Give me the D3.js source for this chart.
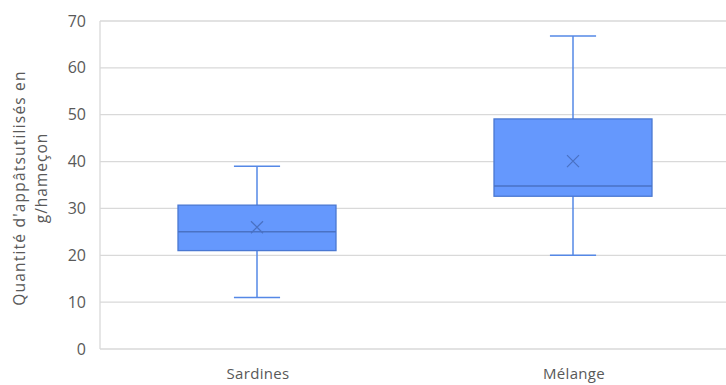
<!DOCTYPE html>
<html><head><meta charset="utf-8">
<script src="https://cdn.jsdelivr.net/npm/d3@7"></script>
<style>body{margin:0;background:#fff}svg{display:block}</style>
</head><body>
<svg id="c" width="726" height="385"></svg>
<script>
const categories = ["Sardines", "Mélange"];
const minVals = [11, 20];
const q1Vals = [21, 32.6];
const medianVals = [25, 34.8];
const q3Vals = [30.7, 49.1];
const maxVals = [39, 66.8];
const meanVals = [26, 40.1];
const yTicks = [0, 10, 20, 30, 40, 50, 60, 70];
const yLabelLines = ["Quantité d'appâtsutilisés en", "g/hameçon"];

const svg = d3.select("#c");
const font = "'Open Sans', 'Liberation Sans', sans-serif";
const pLeft = 100, pRight = 732, pTop = 21, pBottom = 349;

const x = d3.scaleBand().domain(categories).range([pLeft, pRight]);
const y = d3.scaleLinear().domain([0, 70]).range([pBottom, pTop]);

svg.append("g").selectAll("line").data(yTicks).join("line")
  .attr("x1", pLeft).attr("x2", pRight)
  .attr("y1", d => y(d)).attr("y2", d => y(d))
  .attr("stroke", "#d9d9d9").attr("stroke-width", 1.3);
svg.append("line").attr("x1", pLeft).attr("x2", pLeft).attr("y1", pTop).attr("y2", pBottom)
  .attr("stroke", "#d9d9d9").attr("stroke-width", 1.3);

const yAxis = d3.axisLeft(y).tickValues(yTicks).tickSize(0).tickPadding(14);
const ga = svg.append("g").attr("transform", `translate(${pLeft},0)`).call(yAxis);
ga.select(".domain").remove();
ga.selectAll("text").attr("font-family", font).attr("font-size", 16).attr("fill", "#595959");

const xAxis = d3.axisBottom(x).tickSize(0).tickPadding(0);
const gx = svg.append("g").attr("transform", `translate(0,${pBottom})`).call(xAxis);
gx.select(".domain").remove();
gx.selectAll("text").attr("dy", null).attr("y", 30).attr("font-family", font).attr("font-size", 15)
  .attr("letter-spacing", "0.3px").attr("fill", "#595959");

svg.append("text").attr("transform", "translate(25,188) rotate(-90)")
  .attr("text-anchor", "middle").attr("font-family", font).attr("font-size", 15.5)
  .attr("letter-spacing", "1.2px").attr("fill", "#595959").text(yLabelLines[0]);
svg.append("text").attr("transform", "translate(47,178) rotate(-90)")
  .attr("text-anchor", "middle").attr("font-family", font).attr("font-size", 15.5)
  .attr("letter-spacing", "1px").attr("fill", "#595959").text(yLabelLines[1]);

const boxW = x.bandwidth() * 0.5;
const capW = x.bandwidth() * 0.146;
const stroke = "#5588e6", fill = "#6598fd";
const g = svg.append("g");
categories.forEach((c, i) => {
  const cx = x(c) + x.bandwidth() / 2 - 1;
  g.append("line").attr("x1", cx).attr("x2", cx).attr("y1", y(maxVals[i])).attr("y2", y(q3Vals[i]))
    .attr("stroke", stroke).attr("stroke-width", 1.5);
  g.append("line").attr("x1", cx).attr("x2", cx).attr("y1", y(q1Vals[i])).attr("y2", y(minVals[i]))
    .attr("stroke", stroke).attr("stroke-width", 1.5);
  g.append("line").attr("x1", cx - capW / 2).attr("x2", cx + capW / 2).attr("y1", y(maxVals[i])).attr("y2", y(maxVals[i]))
    .attr("stroke", stroke).attr("stroke-width", 1.5);
  g.append("line").attr("x1", cx - capW / 2).attr("x2", cx + capW / 2).attr("y1", y(minVals[i])).attr("y2", y(minVals[i]))
    .attr("stroke", stroke).attr("stroke-width", 1.5);
  g.append("rect").attr("x", cx - boxW / 2).attr("width", boxW)
    .attr("y", y(q3Vals[i])).attr("height", y(q1Vals[i]) - y(q3Vals[i]))
    .attr("fill", fill).attr("stroke", "#4a78d2").attr("stroke-width", 1.3);
  g.append("line").attr("x1", cx - boxW / 2).attr("x2", cx + boxW / 2)
    .attr("y1", y(medianVals[i])).attr("y2", y(medianVals[i]))
    .attr("stroke", "#4a72c4").attr("stroke-width", 1.5);
  const my = y(meanVals[i]), s = 6;
  g.append("path").attr("d", `M${cx - s},${my - s}L${cx + s},${my + s}M${cx - s},${my + s}L${cx + s},${my - s}`)
    .attr("stroke", "#4a72c4").attr("stroke-width", 1.3).attr("fill", "none");
});
</script>
</body></html>
